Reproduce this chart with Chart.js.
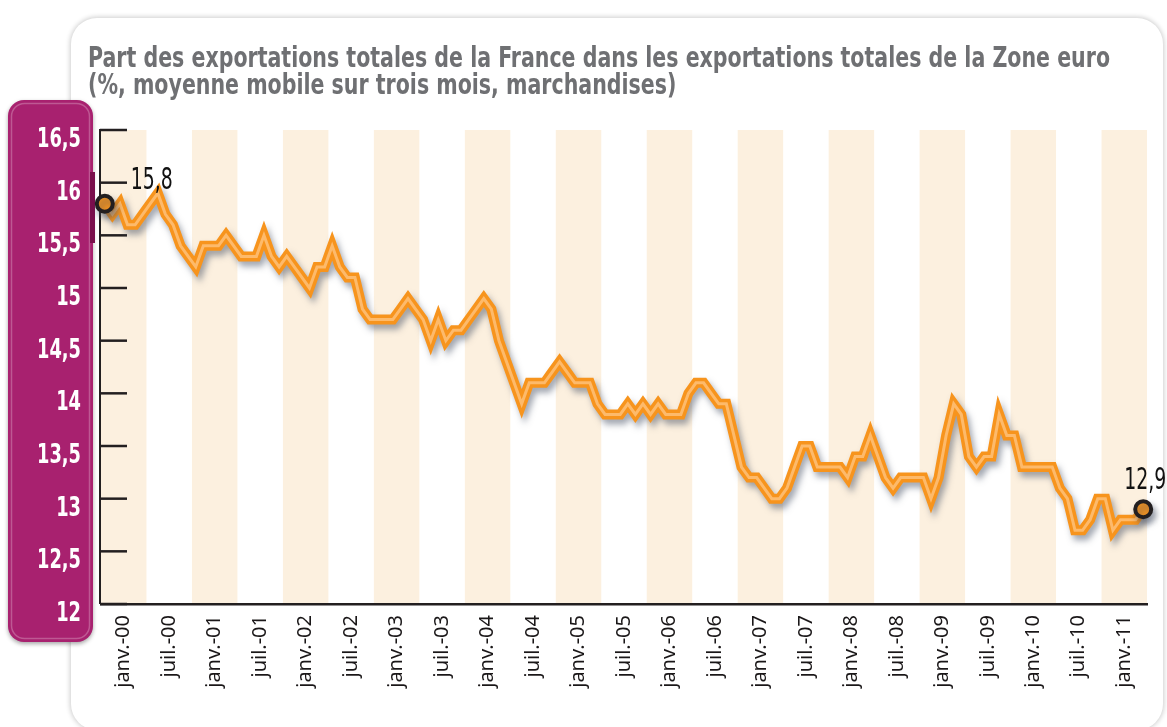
<!DOCTYPE html>
<html>
<head>
<meta charset="utf-8">
<script src="https://cdn.jsdelivr.net/npm/chart.js@4.4.1/dist/chart.umd.min.js"></script>
<style>
  html, body { margin: 0; padding: 0; background: #fff; overflow: hidden; }
  #wrap { position: relative; width: 1167px; height: 727px; }
  #card { position: absolute; left: 71px; top: 18px; width: 1092px; height: 712px;
          border-radius: 26px; background: #fff; box-shadow: 0 0 5px 1px rgba(0,0,0,0.2); }
  canvas { position: absolute; left: 0; top: 0; }
</style>
</head>
<body>
<div id="wrap">
  <div id="card"></div>
  <canvas id="chart" width="1167" height="727"></canvas>
</div>
<script>
const titleLines = [
  'Part des exportations totales de la France dans les exportations totales de la Zone euro',
  '(%, moyenne mobile sur trois mois, marchandises)'
];

// one category per month, janv.-00 .. juin-11
const monthNames = ['janv.', 'févr.', 'mars', 'avr.', 'mai', 'juin', 'juil.', 'août', 'sept.', 'oct.', 'nov.', 'déc.'];
const months = [];
for (let y = 2000; y <= 2011; y++) monthNames.forEach(m => months.push(m + '-' + String(y).slice(2)));
months.length = 138;

// half-year bands on the x axis
const tickLabels = [
  'janv.-00', 'juil.-00', 'janv.-01', 'juil.-01', 'janv.-02', 'juil.-02', 'janv.-03', 'juil.-03',
  'janv.-04', 'juil.-04', 'janv.-05', 'juil.-05', 'janv.-06', 'juil.-06', 'janv.-07', 'juil.-07',
  'janv.-08', 'juil.-08', 'janv.-09', 'juil.-09', 'janv.-10', 'juil.-10', 'janv.-11'
];

// share of France in euro area exports (%)
const share = [
  15.8, 15.7, 15.8, 15.6, 15.6, 15.7, 15.8, 15.9, 15.7, 15.6,
  15.4, 15.3, 15.2, 15.4, 15.4, 15.4, 15.5, 15.4, 15.3, 15.3,
  15.3, 15.5, 15.3, 15.2, 15.3, 15.2, 15.1, 15.0, 15.2, 15.2,
  15.4, 15.2, 15.1, 15.1, 14.8, 14.7, 14.7, 14.7, 14.7, 14.8,
  14.9, 14.8, 14.7, 14.5, 14.7, 14.5, 14.6, 14.6, 14.7, 14.8,
  14.9, 14.8, 14.5, 14.3, 14.1, 13.9, 14.1, 14.1, 14.1, 14.2,
  14.3, 14.2, 14.1, 14.1, 14.1, 13.9, 13.8, 13.8, 13.8, 13.9,
  13.8, 13.9, 13.8, 13.9, 13.8, 13.8, 13.8, 14.0, 14.1, 14.1,
  14.0, 13.9, 13.9, 13.6, 13.3, 13.2, 13.2, 13.1, 13.0, 13.0,
  13.1, 13.3, 13.5, 13.5, 13.3, 13.3, 13.3, 13.3, 13.2, 13.4,
  13.4, 13.6, 13.4, 13.2, 13.1, 13.2, 13.2, 13.2, 13.2, 13.0,
  13.2, 13.6, 13.9, 13.8, 13.4, 13.3, 13.4, 13.4, 13.8, 13.6,
  13.6, 13.3, 13.3, 13.3, 13.3, 13.3, 13.1, 13.0, 12.7, 12.7,
  12.8, 13.0, 13.0, 12.7, 12.8, 12.8, 12.8, 12.9
];

const yTicks = [12, 12.5, 13, 13.5, 14, 14.5, 15, 15.5, 16, 16.5];

const NARROW = "'Liberation Sans Narrow', 'DejaVu Sans Condensed', 'Liberation Sans', sans-serif";
const last = share.length - 1;
const fmt = v => String(v).replace('.', ',');

// draw text squeezed horizontally by sx
function drawSqueezed(ctx, text, x, y, sx, align) {
  ctx.save();
  ctx.translate(x, y);
  ctx.scale(sx, 1);
  ctx.textAlign = align;
  ctx.fillText(text, 0, 0);
  ctx.restore();
}

const decor = {
  id: 'decor',
  beforeDraw(chart) {
    const {ctx, chartArea: a} = chart;
    // purple y axis panel
    ctx.save();
    ctx.shadowColor = 'rgba(0,0,0,0.35)';
    ctx.shadowBlur = 4;
    ctx.shadowOffsetY = 2;
    ctx.fillStyle = '#a8216f';
    ctx.beginPath();
    ctx.roundRect(8, 100, 85, 542, 16);
    ctx.fill();
    ctx.restore();
    ctx.strokeStyle = 'rgba(255,255,255,0.25)';
    ctx.lineWidth = 1.5;
    ctx.beginPath();
    ctx.roundRect(11.5, 103.5, 78, 535, 13);
    ctx.stroke();
    ctx.fillStyle = '#7a0f4d';
    ctx.fillRect(90, 172, 5, 71);

    // shaded half-year bands (janv. - juin)
    const x2 = chart.scales.x2;
    const w = a.width / tickLabels.length;
    ctx.fillStyle = '#fcf0df';
    tickLabels.forEach((t, i) => {
      if (i % 2) return;
      ctx.fillRect(x2.getPixelForValue(i) - w / 2, a.top, w, a.bottom - a.top);
    });
  },
  beforeDatasetsDraw(chart) {
    const {ctx, chartArea: a, scales: {y}} = chart;
    ctx.save();
    ctx.strokeStyle = '#231f20';
    ctx.lineWidth = 2;
    ctx.beginPath();
    ctx.moveTo(100, a.top - 1);
    ctx.lineTo(100, a.bottom);
    ctx.stroke();
    ctx.lineWidth = 2.5;
    yTicks.forEach(v => {
      const py = y.getPixelForValue(v);
      ctx.beginPath();
      ctx.moveTo(100, py);
      ctx.lineTo(127, py);
      ctx.stroke();
    });
    ctx.restore();
  },
  afterDraw(chart) {
    const {ctx, scales: {y}} = chart;
    ctx.save();
    // y tick labels
    ctx.fillStyle = '#fff';
    ctx.font = 'bold 27px ' + NARROW;
    const sy = 44 / ctx.measureText('16,5').width;
    yTicks.forEach(v => drawSqueezed(ctx, fmt(v), 81, y.getPixelForValue(v) + 17, sy, 'right'));

    // title
    ctx.fillStyle = '#6f7073';
    ctx.font = 'bold 29px ' + NARROW;
    const st = 1022 / ctx.measureText(titleLines[0]).width;
    drawSqueezed(ctx, titleLines[0], 88, 67, st, 'left');
    drawSqueezed(ctx, titleLines[1], 88, 94, st, 'left');

    // first and last values
    const pts = chart.getDatasetMeta(2).data;
    ctx.fillStyle = '#111';
    ctx.font = '30px ' + NARROW;
    const sv = 42 / ctx.measureText('15,8').width;
    drawSqueezed(ctx, fmt(share[0]), pts[0].x + 26, pts[0].y - 15, sv, 'left');
    drawSqueezed(ctx, fmt(share[last]), pts[last].x - 19, pts[last].y - 20, sv, 'left');
    ctx.restore();
  }
};

const lineShadow = {
  id: 'lineShadow',
  beforeDatasetDraw(chart, args) {
    if (args.index === 1) return;
    const ctx = chart.ctx;
    ctx.save();
    ctx.shadowColor = 'rgba(70,80,100,0.5)';
    ctx.shadowBlur = 6;
    ctx.shadowOffsetX = 3;
    ctx.shadowOffsetY = 5;
  },
  afterDatasetDraw(chart, args) {
    if (args.index === 1) return;
    chart.ctx.restore();
  }
};

const ctx = document.getElementById('chart').getContext('2d');
const chart = new Chart(ctx, {
  type: 'line',
  data: {
    labels: months,
    datasets: [
      {
        // end markers
        data: share,
        showLine: false,
        pointRadius: c => (c.dataIndex === 0 || c.dataIndex === last) ? 8 : 0,
        pointBackgroundColor: '#f7941d',
        pointBorderColor: '#231f20',
        pointBorderWidth: 4,
        clip: false
      },
      {
        // light stripe in the middle of the line
        data: share,
        borderColor: 'rgba(253,188,112,0.95)',
        borderWidth: 3,
        pointRadius: 0,
        tension: 0,
        borderJoinStyle: 'miter',
        clip: false
      },
      {
        data: share,
        borderColor: '#f7941d',
        borderWidth: 10,
        pointRadius: 0,
        tension: 0,
        borderJoinStyle: 'miter',
        clip: false
      }
    ]
  },
  options: {
    responsive: false,
    animation: false,
    devicePixelRatio: 1,
    layout: { padding: { left: 101, right: 20, top: 130, bottom: 0 } },
    plugins: {
      legend: { display: false },
      tooltip: { enabled: false },
      title: { display: false }
    },
    scales: {
      x: { type: 'category', display: false, offset: true },
      x2: {
        type: 'category',
        labels: tickLabels,
        position: 'bottom',
        offset: true,
        grid: { display: false, drawTicks: false },
        border: { display: true, color: '#231f20', width: 2.5 },
        ticks: {
          autoSkip: false,
          minRotation: 90,
          maxRotation: 90,
          padding: 11,
          color: '#1a1718',
          font: { family: "'Noto Sans', sans-serif", size: 20 }
        },
        afterFit: s => { s.height = 123; }
      },
      y: { display: false, min: 12, max: 16.5 }
    }
  },
  plugins: [decor, lineShadow]
});
</script>
</body>
</html>
